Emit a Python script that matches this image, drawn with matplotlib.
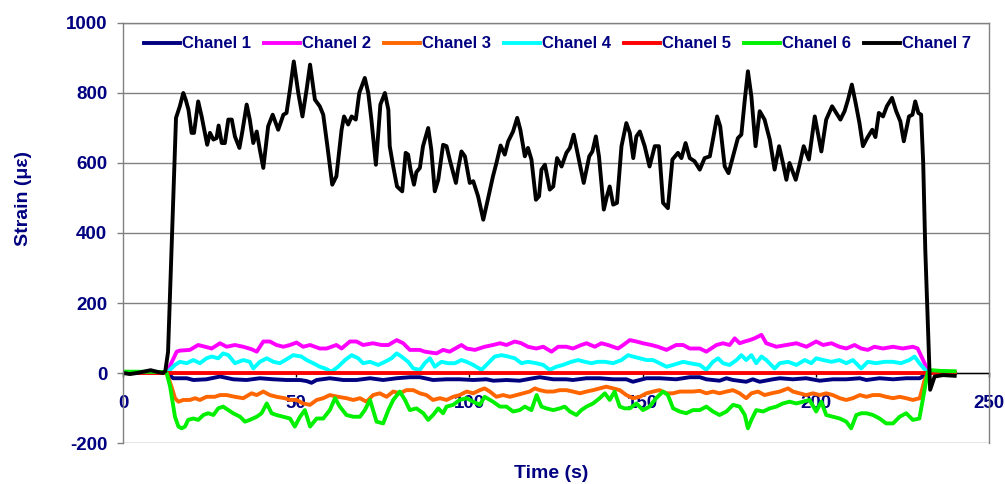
import matplotlib
matplotlib.use("Agg")
import matplotlib.pyplot as plt

# %% Strain records, one (time, value) list pair per channel

t_ch1 = [0, 12.6, 14.5, 18.4, 20.3, 24.1, 28.0, 31.8, 35.7, 39.5, 43.4, 47.2, 51.1, 53.0, 54.4,
         55.9, 59.7, 63.6, 67.4, 71.3, 75.1, 79.0, 82.8, 85.7, 89.5, 93.4, 97.2, 101.1, 104.9,
         106.9, 110.7, 114.5, 118.4, 120.3, 124.2, 128.0, 129.9, 133.8, 137.6, 141.5, 145.3,
         147.2, 151.1, 154.9, 159.7, 163.6, 166.5, 168.4, 172.2, 174.2, 176.1, 179.9, 181.8,
         183.8, 187.6, 189.6, 193.4, 197.2, 201.1, 204.9, 208.8, 212.7, 214.6, 218.4, 222.3,
         226.1, 230.0, 231.4, 232.9, 240.1]
v_ch1 = [0, 0, -15, -15, -20, -18, -10, -18, -20, -15, -18, -20, -20, -23, -28,
         -20, -15, -20, -20, -15, -20, -15, -12, -12, -20, -18, -18, -20, -18,
         -22, -20, -22, -15, -12, -18, -18, -20, -15, -15, -18, -18,
         -25, -15, -15, -18, -12, -12, -18, -22, -15, -20, -25, -18,
         -25, -18, -15, -18, -15, -22, -18, -18, -15, -20, -15, -18,
         -15, -15, -6, 0, 0]

t_ch2 = [0, 12.6, 15.5, 16.4, 19.3, 21.7, 23.7, 25.6, 28.0, 29.9, 32.3, 34.7, 37.1, 38.6, 40.5,
         42.4, 44.3, 46.3, 48.2, 50.1, 52.0, 54.0, 56.8, 58.8, 61.6, 63.1, 65.5, 67.4, 69.3,
         72.2, 74.6, 76.6, 79.0, 80.9, 82.8, 85.7, 87.1, 90.5, 92.4, 94.3, 97.7, 99.2, 101.6,
         104.4, 106.8, 108.8, 110.7, 113.1, 115.0, 116.9, 119.3, 121.3, 123.7, 125.6, 128.0,
         129.9, 132.3, 133.8, 136.2, 138.1, 140.0, 142.9, 144.4, 146.3, 148.2, 150.1, 152.5,
         154.4, 156.9, 159.7, 161.7, 163.6, 166.5, 168.4, 171.3, 173.2, 175.1, 176.6, 178.0,
         179.5, 180.9, 182.3, 184.3, 185.7, 188.6, 191.5, 194.4, 197.3, 200.1, 202.1, 204.5,
         206.8, 208.8, 211.2, 213.1, 215.0, 216.9, 219.4, 222.3, 225.1, 228.0, 229.4, 231.4,
         232.4, 233.8, 236.7, 240.1]
v_ch2 = [0, 0, 61, 64, 66, 80, 75, 70, 85, 75, 80, 75, 68, 61, 90,
         90, 80, 75, 80, 87, 75, 80, 70, 70, 80, 70, 90, 90, 80,
         85, 80, 80, 94, 85, 66, 66, 61, 56, 66, 61, 80, 70, 66,
         75, 80, 85, 80, 90, 85, 75, 70, 75, 61, 75, 75,
         70, 80, 85, 75, 85, 80, 70, 80, 94, 90, 85, 80,
         75, 66, 80, 80, 70, 70, 61, 80, 85, 80, 99, 85,
         90, 94, 99, 109, 85, 75, 80, 85, 75, 90, 80, 85,
         75, 70, 80, 70, 66, 75, 70, 75, 70, 75, 70, 28,
         0, 4, 4, 2]

t_ch3 = [0, 12.6, 14.0, 15.0, 16.0, 17.4, 19.3, 20.8, 22.2, 24.1, 26.5, 28.0, 29.9, 32.3, 34.7,
         37.1, 38.6, 40.5, 42.4, 44.3, 46.7, 48.2, 50.1, 52.0, 54.0, 55.9, 57.8, 59.7, 62.1,
         64.5, 66.5, 68.4, 70.3, 72.2, 74.1, 76.1, 78.0, 79.9, 81.8, 83.8, 85.7, 87.6, 89.5,
         91.5, 93.4, 95.3, 97.2, 99.2, 101.1, 103.0, 104.4, 105.9, 107.8, 109.7, 111.7, 113.6,
         115.5, 117.4, 118.9, 120.3, 122.2, 124.2, 126.1, 128.0, 129.9, 131.9, 133.8, 135.7,
         137.6, 139.5, 141.5, 143.4, 145.3, 147.2, 149.2, 151.1, 153.0, 154.9, 156.9, 158.8,
         160.7, 162.6, 164.5, 166.5, 168.4, 170.3, 172.2, 174.2, 176.1, 178.0, 179.9, 181.4,
         183.3, 185.2, 187.2, 189.6, 192.0, 193.4, 195.3, 197.2, 199.2, 201.1, 203.0, 204.9,
         206.9, 208.8, 210.7, 212.7, 214.6, 216.5, 218.4, 220.3, 222.3, 224.2, 226.1, 228.0,
         230.0, 231.4, 232.4, 240.1]
v_ch3 = [0, 0, -39, -72, -82, -77, -77, -72, -77, -68, -68, -63, -63, -68, -72,
         -58, -63, -53, -63, -68, -72, -77, -77, -87, -91, -77, -72, -63, -68,
         -72, -77, -72, -82, -63, -58, -68, -53, -58, -49, -49, -58, -63, -77,
         -72, -77, -68, -63, -53, -58, -49, -44, -53, -68, -63, -68, -63,
         -58, -53, -44, -49, -53, -53, -49, -49, -53, -58, -53, -49,
         -44, -39, -44, -49, -63, -72, -68, -58, -53, -49, -58, -58,
         -53, -53, -53, -51, -58, -53, -58, -53, -49, -58, -72, -58,
         -53, -63, -58, -53, -44, -53, -58, -63, -58, -63, -58, -63,
         -72, -77, -72, -63, -68, -63, -63, -68, -72, -68, -72, -77,
         -72, -20, 0, 0]

t_ch4 = [0, 12.6, 15.0, 16.4, 18.4, 20.3, 22.2, 24.1, 25.6, 27.5, 28.9, 30.4, 32.3, 34.7, 36.6,
         37.6, 39.5, 41.5, 43.4, 45.3, 47.7, 49.1, 51.5, 53.0, 54.9, 56.8, 58.3, 60.2, 62.1,
         64.1, 66.0, 67.9, 69.3, 71.3, 73.7, 75.6, 77.5, 79.0, 80.4, 82.3, 83.8, 85.7, 87.1,
         88.6, 90.0, 91.9, 93.9, 95.8, 97.7, 99.2, 101.1, 103.5, 105.4, 107.3, 109.3, 111.2,
         113.1, 115.0, 116.9, 119.3, 121.3, 123.2, 125.1, 127.0, 129.4, 131.4, 133.3, 135.2,
         137.1, 139.1, 141.5, 143.9, 145.8, 147.2, 149.2, 151.1, 153.0, 154.9, 156.9, 158.8,
         161.7, 163.6, 166.5, 168.4, 170.3, 171.8, 173.2, 175.1, 177.1, 178.5, 179.9, 181.4,
         182.8, 184.3, 185.7, 188.1, 189.6, 192.0, 194.4, 196.8, 198.7, 200.1, 202.1, 204.5,
         206.8, 208.8, 210.7, 213.1, 215.0, 217.4, 219.8, 222.2, 224.6, 227.0, 228.5, 229.9,
         232.4, 240.1]
v_ch4 = [0, 0, 23, 32, 28, 37, 28, 42, 47, 42, 56, 51, 28, 37, 32,
         13, 32, 42, 32, 28, 42, 51, 47, 37, 28, 18, 13, 4, 18,
         37, 51, 42, 28, 32, 23, 32, 42, 56, 47, 32, 13, 9, 28,
         42, 18, 32, 28, 28, 37, 32, 23, 9, 28, 47, 51, 47,
         42, 28, 32, 28, 23, 9, 18, 23, 32, 37, 32, 28,
         32, 32, 28, 37, 51, 47, 42, 37, 37, 28, 18, 23,
         32, 28, 23, 9, 32, 42, 28, 23, 37, 51, 37, 51,
         28, 47, 37, 13, 28, 32, 23, 37, 28, 42, 37, 32,
         37, 28, 37, 13, 32, 28, 32, 32, 28, 37, 47, 28,
         0, 0]

t_ch5 = [0, 240.1]
v_ch5 = [0, 0]

t_ch6 = [0, 12.0, 12.6, 13.6, 15.0, 16.0, 16.9, 17.9, 18.8, 20.3, 21.7, 23.2, 24.6, 26.1, 27.5,
         28.9, 30.4, 31.8, 33.8, 35.2, 36.6, 38.6, 40.0, 41.5, 42.9, 44.3, 46.3, 48.2, 49.6,
         51.1, 52.5, 54.0, 55.9, 57.8, 59.7, 61.2, 62.6, 64.5, 66.5, 68.4, 69.8, 71.3, 73.2,
         75.1, 76.6, 78.0, 79.9, 81.4, 82.8, 84.7, 86.7, 88.1, 89.5, 91.0, 92.4, 93.4, 95.3,
         97.2, 99.2, 101.1, 103.0, 104.4, 106.8, 108.8, 110.7, 112.6, 114.5, 116.0, 117.9,
         119.4, 120.8, 122.2, 124.2, 126.1, 127.5, 129.0, 130.9, 132.3, 133.8, 135.7, 137.6,
         139.1, 140.5, 141.9, 143.4, 144.8, 146.3, 148.2, 150.1, 152.0, 153.9, 155.9, 157.3,
         158.8, 160.7, 162.6, 164.5, 166.5, 168.4, 170.3, 172.2, 174.2, 176.1, 178.0, 179.5,
         180.4, 181.4, 182.8, 184.8, 186.7, 188.6, 190.5, 192.4, 194.4, 196.3, 198.2, 200.1,
         201.6, 203.0, 204.9, 206.9, 208.8, 210.2, 211.7, 213.1, 214.6, 216.5, 218.4, 220.3,
         222.3, 224.2, 226.1, 228.0, 229.9, 232.3, 233.5, 236.0, 240.1]
v_ch6 = [4, 3, 0, -39, -125, -153, -158, -153, -134, -130, -134, -120, -115, -120, -101,
         -96, -106, -115, -125, -139, -134, -125, -115, -87, -115, -120, -125, -130, -153,
         -125, -106, -153, -130, -130, -106, -72, -96, -120, -125, -125, -106, -77, -139,
         -144, -106, -77, -53, -77, -106, -101, -115, -134, -120, -101, -115, -96, -91,
         -77, -72, -82, -91, -68, -82, -96, -96, -110, -106, -96, -106,
         -63, -96, -101, -106, -101, -96, -110, -120, -106, -96, -87, -72,
         -58, -77, -53, -96, -101, -101, -87, -106, -96, -72, -53, -63,
         -101, -110, -115, -106, -106, -96, -110, -120, -110, -91, -96, -120,
         -158, -134, -106, -110, -101, -96, -87, -82, -87, -82, -77, -110,
         -82, -120, -125, -130, -139, -158, -120, -115, -115, -120, -130, -144,
         -144, -125, -115, -134, -130, 2, 8, 6, 5]

t_ch7 = [0, 2, 4, 6, 8, 10, 11.5, 12.2, 13.0, 14.0, 15.3, 16.4, 17.4, 18.1, 18.9, 19.8, 20.5,
         21.7, 22.7, 24.3, 25.1, 26.1, 27.0, 27.6, 28.5, 29.4, 30.4, 31.4, 32.3, 33.6, 34.5,
         35.7, 36.6, 37.6, 38.6, 39.5, 40.5, 41.9, 43.2, 44.8, 46.3, 47.2, 48.2, 49.3, 50.6,
         51.8, 53.0, 54.0, 55.4, 56.8, 57.8, 59.0, 60.4, 61.6, 63.1, 63.8, 65.0, 66.0, 67.2,
         68.2, 69.8, 70.8, 71.7, 73.0, 74.3, 75.6, 76.6, 77.0, 78.0, 79.1, 80.6, 81.6, 82.3,
         83.0, 84.0, 84.7, 85.7, 86.6, 88.1, 89.0, 90.0, 91.0, 92.4, 93.4, 94.3, 96.1, 96.7,
         97.7, 98.7, 100.1, 101.1, 102.5, 104.0, 105.1, 106.8, 107.8, 109.0, 110.2, 111.2,
         112.6, 113.8, 114.7, 116.0, 116.9, 117.9, 119.2, 120.1, 120.8, 121.8, 123.2, 124.2,
         125.3, 126.6, 128.0, 129.0, 130.1, 131.4, 133.0, 134.6, 135.5, 136.5, 137.4, 138.8,
         139.7, 140.5, 141.5, 142.6, 143.9, 145.3, 146.3, 147.3, 148.2, 149.2, 150.6, 152.0,
         153.5, 154.7, 155.9, 157.3, 158.6, 160.2, 161.2, 162.4, 163.6, 165.0, 166.5, 167.9,
         169.4, 170.3, 171.5, 172.4, 173.7, 174.8, 176.1, 177.5, 178.5, 179.5, 180.4, 181.4,
         182.6, 183.8, 185.2, 186.7, 188.1, 189.4, 190.5, 191.5, 192.4, 194.2, 195.3, 196.5,
         198.0, 199.7, 201.6, 203.0, 204.7, 205.9, 207.1, 208.3, 209.3, 210.4, 211.5, 212.6,
         213.6, 214.8, 216.3, 217.2, 218.2, 219.4, 220.5, 222.0, 223.2, 224.4, 225.4, 226.9,
         227.9, 228.7, 229.6, 230.4, 231.0, 231.6, 233.0, 234.3, 236.7, 240.1]
v_ch7 = [0, -3, 0, 4, 8, 3, 0, 5, 60, 352, 729, 762, 800, 781, 752, 686, 686,
         776, 733, 652, 686, 667, 671, 707, 657, 657, 724, 724, 676, 643, 693,
         767, 724, 657, 690, 638, 586, 705, 738, 695, 738, 743, 810, 890, 800,
         733, 810, 881, 781, 762, 738, 648, 538, 562, 695, 733, 710, 733, 724,
         800, 843, 800, 724, 595, 767, 800, 752, 648, 590, 533, 519, 629, 624,
         581, 538, 574, 586, 648, 700, 638, 519, 552, 652, 648, 610, 543, 581,
         633, 619, 543, 548, 505, 438, 486, 562, 600, 650, 624, 662,
         690, 729, 695, 619, 643, 610, 495, 505, 581, 595, 524, 533,
         614, 590, 629, 643, 681, 619, 543, 619, 633, 676, 619, 467,
         505, 533, 481, 486, 648, 714, 686, 614, 676, 690, 648, 590,
         648, 648, 486, 471, 610, 629, 614, 657, 614, 605, 581, 614,
         619, 667, 733, 705, 590, 571, 619, 671, 681, 781, 862, 790,
         648, 748, 724, 667, 581, 648, 600, 552, 600, 552, 595, 648,
         610, 733, 633, 724, 762, 743, 724, 748, 781, 824, 771, 714,
         648, 671, 695, 674, 743, 733, 762, 786, 748, 719, 662, 733,
         738, 776, 743, 738, 600, 352, -48, -10, -6, -8]

labels = ["Chanel 1", "Chanel 2", "Chanel 3", "Chanel 4", "Chanel 5", "Chanel 6", "Chanel 7"]
colors = ["#000080", "#FF00FF", "#FF6600", "#00FFFF", "#FF0000", "#00F000", "#000000"]
series = [(t_ch1, v_ch1), (t_ch2, v_ch2), (t_ch3, v_ch3), (t_ch4, v_ch4),
          (t_ch5, v_ch5), (t_ch6, v_ch6), (t_ch7, v_ch7)]

# %% Plot

navy = "#000080"
grey = "#808080"
plt.rcParams["font.family"] = ["Liberation Sans", "DejaVu Sans"]
plt.rcParams["font.weight"] = "bold"
plt.rcParams["axes.unicode_minus"] = False

fig = plt.figure(figsize=(10.05, 4.84), dpi=100)
ax = fig.add_axes([0.1224, 0.0847, 0.8617, 0.8678])

for (t, v), lab, c in zip(series, labels, colors):
    ax.plot(t, v, color=c, lw=2.8, label=lab, solid_joinstyle="round")

ax.set_xlim(0, 250)
ax.set_ylim(-200, 1000)
ax.set_xticks([0, 50, 100, 150, 200, 250])
ax.set_yticks(range(-200, 1001, 200))

ax.set_axisbelow(True)
ax.yaxis.grid(True, color=grey, lw=1)

# x axis crosses at zero strain
ax.spines["bottom"].set_position(("data", 0))
ax.spines["bottom"].set_color("black")
ax.spines["bottom"].set_linewidth(1)
ax.spines["bottom"].set_zorder(1)
for s in ["left", "right", "top"]:
    ax.spines[s].set_color(grey)
    ax.spines[s].set_linewidth(1)

ax.tick_params(axis="x", direction="out", length=3, width=1, color="black",
               pad=13, labelsize=13.5, labelcolor=navy)
ax.tick_params(axis="y", direction="out", length=4.3, width=1, color=grey,
               pad=7, labelsize=13.5, labelcolor=navy)

ax.set_xlabel("Time (s)", fontsize=14, color=navy, fontweight="bold", va="top")
ax.xaxis.set_label_coords(0.494, -0.052)
ax.set_ylabel("Strain (με)", fontsize=14, color=navy, fontweight="bold")
ax.yaxis.set_label_coords(-0.105, 0.581)

leg = ax.legend(loc="center", bbox_to_anchor=(0.502, 0.95), ncol=7, frameon=False,
                fontsize=12, handlelength=2.16, handletextpad=0.12, columnspacing=0.78,
                borderpad=0)
for txt in leg.get_texts():
    txt.set_color(navy)

fig.savefig("out.png", dpi=100)
